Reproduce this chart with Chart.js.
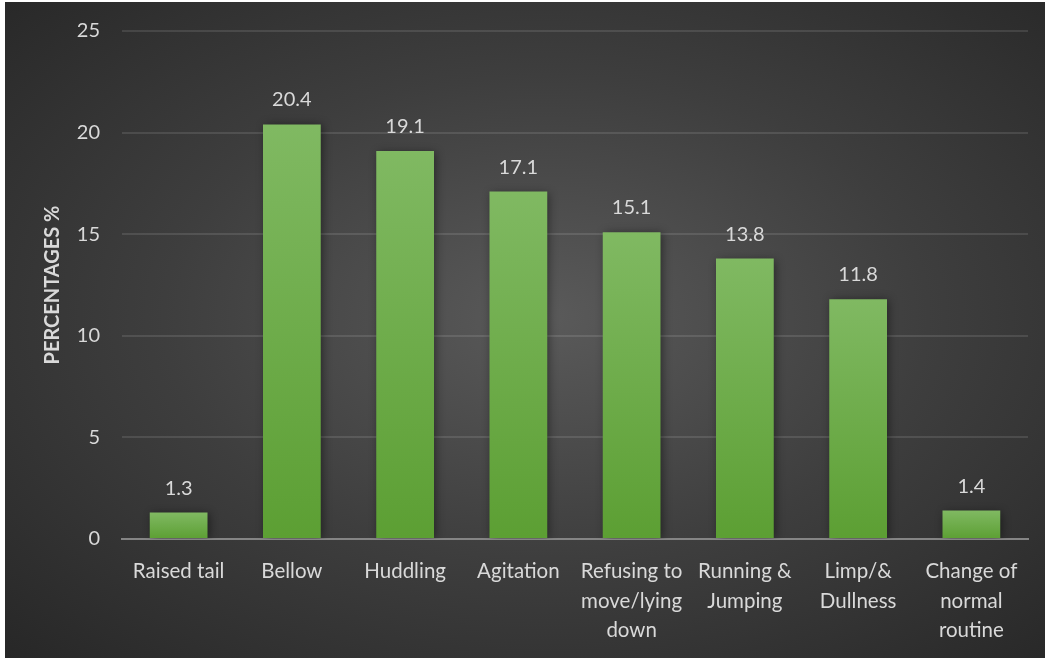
<!DOCTYPE html>
<html>
<head>
<meta charset="utf-8">
<script src="https://cdn.jsdelivr.net/npm/chart.js@4/dist/chart.umd.min.js"></script>
<style>
  html, body { margin: 0; padding: 0; background: #fff; }
  #frame {
    position: absolute; left: 5px; top: 2px; width: 1040px; height: 656px;
    background: radial-gradient(ellipse farthest-corner at 52% 48%, #5a5a5a 0%, #3e3e3e 50%, #272727 100%);
  }
</style>
</head>
<body>
<div id="frame"><canvas id="chart" width="1040" height="656"></canvas></div>
<script>
// Behaviour signs and share of responses (%)
const categories = [
  'Raised tail',
  'Bellow',
  'Huddling',
  'Agitation',
  ['Refusing to', 'move/lying', 'down'],
  ['Running &', 'Jumping'],
  ['Limp/&', 'Dullness'],
  ['Change of', 'normal', 'routine'],
];
const percentages = [1.3, 20.4, 19.1, 17.1, 15.1, 13.8, 11.8, 1.4];
const yTicks = [0, 5, 10, 15, 20, 25];

const FONT = 'Lato, Carlito, "Open Sans", sans-serif';
const TEXT = '#d9d9d9';

// vertical gradient per bar, light at the top, darker at the base
function barFill(ctx) {
  const chart = ctx.chart;
  const y = chart.scales.y;
  const fallback = '#6aad44';
  if (!y || ctx.raw == null) return fallback;
  const top = y.getPixelForValue(ctx.raw);
  const base = y.getPixelForValue(0);
  if (!isFinite(top) || !isFinite(base) || top === base) return fallback;
  const g = chart.ctx.createLinearGradient(0, top, 0, base);
  g.addColorStop(0, '#80b962');
  g.addColorStop(1, '#5c9f33');
  return g;
}

// soft drop shadow behind the bars
const barShadow = {
  id: 'barShadow',
  beforeDatasetsDraw(chart) {
    const c = chart.ctx;
    c.save();
    c.shadowColor = 'rgba(0,0,0,0.45)';
    c.shadowBlur = 9;
    c.shadowOffsetX = 2;
    c.shadowOffsetY = 1;
  },
  afterDatasetsDraw(chart) {
    chart.ctx.restore();
  },
};

// value printed above each bar
const valueLabels = {
  id: 'valueLabels',
  afterDatasetsDraw(chart) {
    const c = chart.ctx;
    const meta = chart.getDatasetMeta(0);
    c.save();
    c.fillStyle = TEXT;
    c.font = '20px ' + FONT;
    c.textAlign = 'center';
    c.textBaseline = 'alphabetic';
    meta.data.forEach((bar, i) => {
      c.fillText(percentages[i].toFixed(1), bar.x, bar.y - 18);
    });
    c.restore();
  },
};

new Chart(document.getElementById('chart'), {
  type: 'bar',
  data: {
    labels: categories,
    datasets: [{
      data: percentages,
      backgroundColor: barFill,
      borderWidth: 0,
      barPercentage: 0.51,
      categoryPercentage: 1,
    }],
  },
  options: {
    responsive: false,
    animation: false,
    layout: { padding: { top: 29, right: 17, bottom: 0, left: 0 } },
    plugins: {
      legend: { display: false },
      tooltip: { enabled: false },
    },
    scales: {
      x: {
        grid: { display: false },
        border: { display: true, color: '#858585', width: 2 },
        ticks: {
          color: TEXT,
          font: { family: FONT, size: 20.5, lineHeight: 1.46 },
          padding: 9,
          maxRotation: 0,
          autoSkip: false,
        },
        afterFit(scale) { scale.height = 119; },
      },
      y: {
        min: 0,
        max: 25,
        afterBuildTicks(scale) { scale.ticks = yTicks.map(v => ({ value: v })); },
        grid: { color: 'rgba(255,255,255,0.11)', lineWidth: 2, drawTicks: false },
        border: { display: false },
        ticks: {
          color: TEXT,
          font: { family: FONT, size: 20 },
          padding: 22,
        },
        title: {
          display: true,
          text: 'PERCENTAGES %',
          color: TEXT,
          font: { family: FONT, size: 20, weight: 'bold' },
          padding: { top: 36, bottom: 0 },
        },
        afterFit(scale) {
          scale.width = 117;
          scale.paddingTop = 0;
          scale.paddingBottom = 0;
        },
      },
    },
  },
  plugins: [barShadow, valueLabels],
});
</script>
</body>
</html>
